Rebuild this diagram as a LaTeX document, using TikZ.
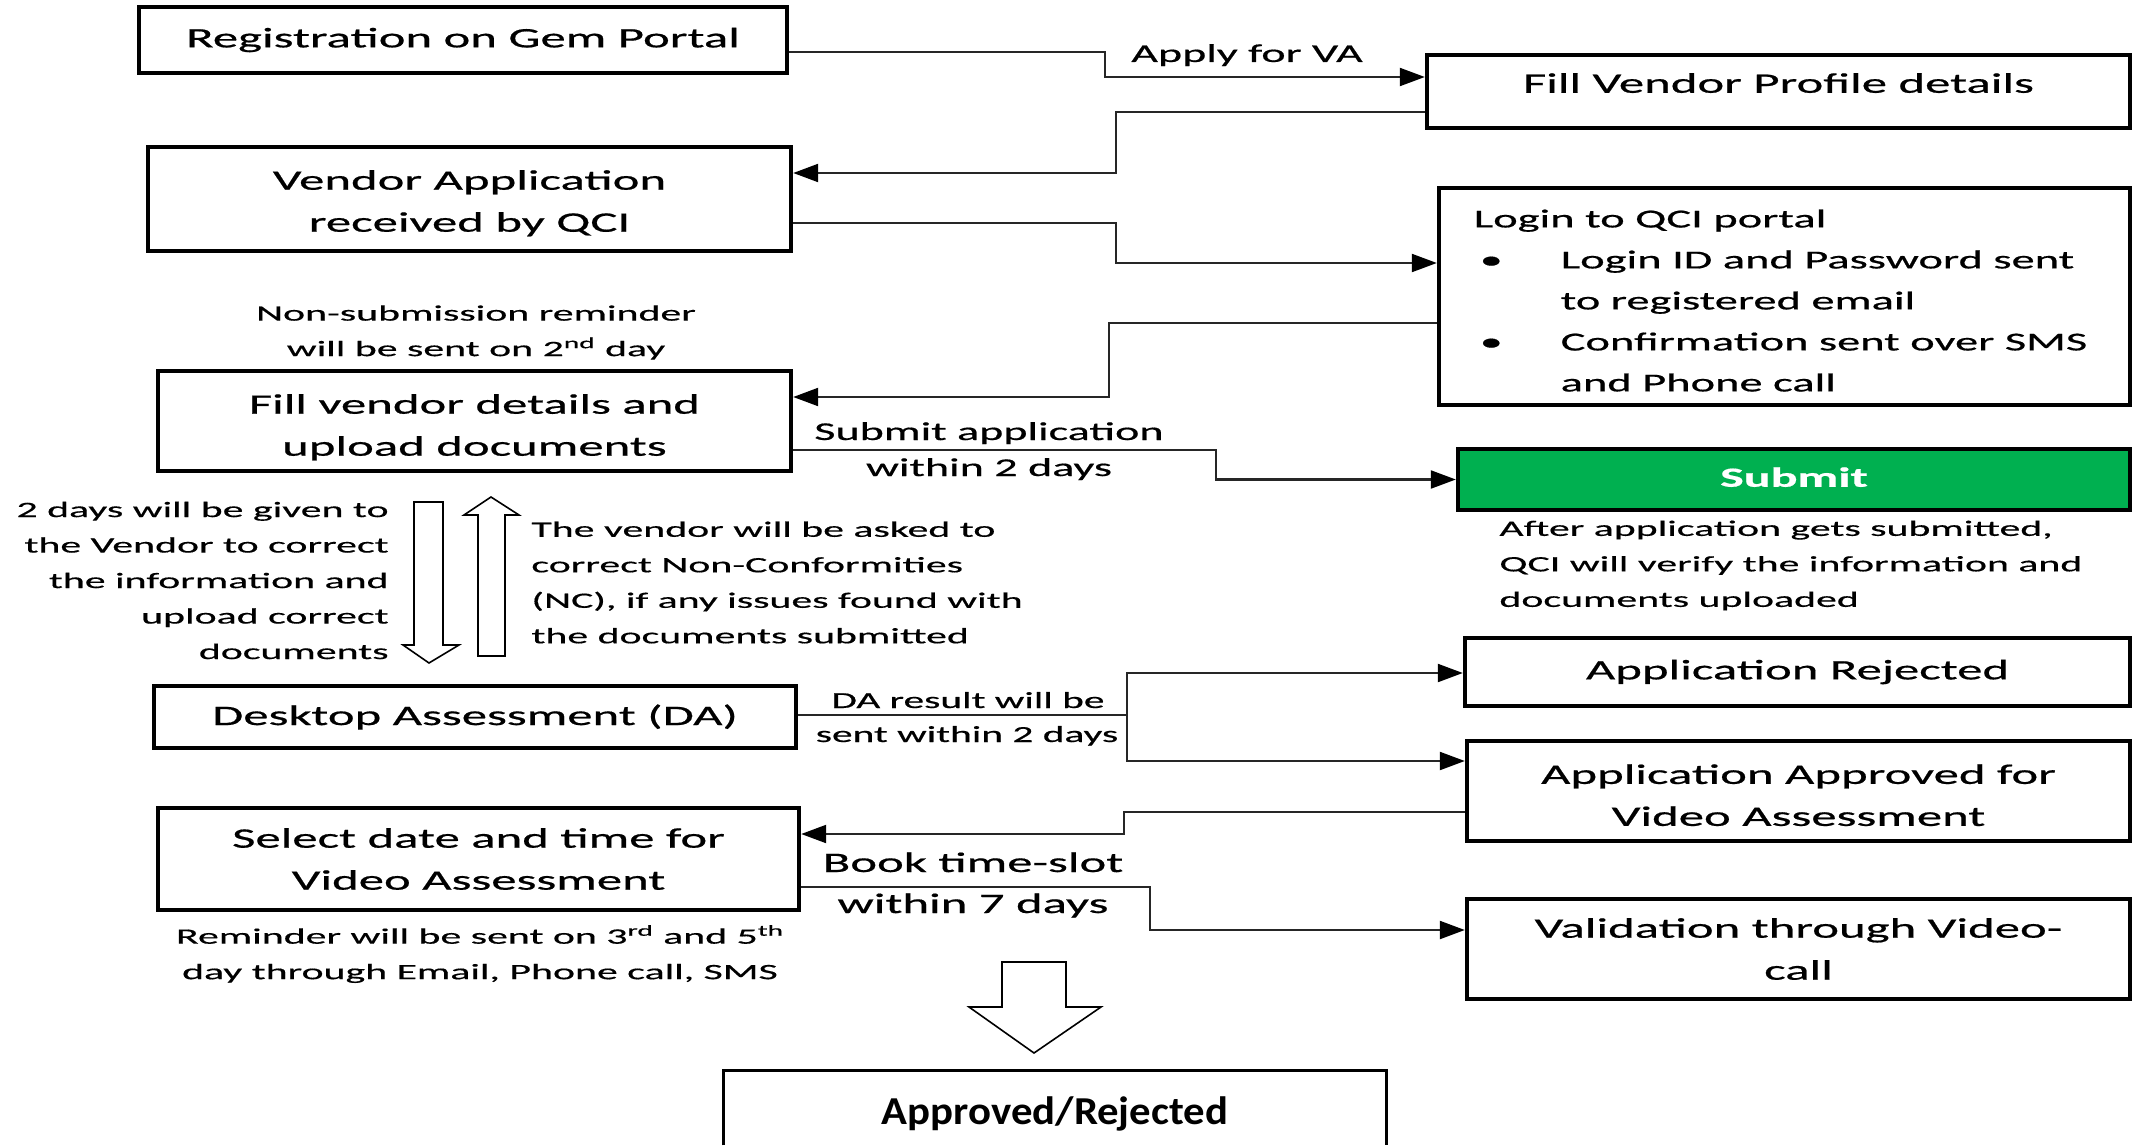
\documentclass[tikz,border=0pt]{standalone}
\usepackage{fontspec}
\setmainfont{Carlito}
\newfontfamily\cfA{Carlito}[FakeStretch=1.8,FakeBold=0.6]
\newfontfamily\cfB{Carlito}[FakeStretch=1.9,FakeBold=0.5]
\newfontfamily\cfC{Carlito}[FakeStretch=1.08]
\usetikzlibrary{arrows.meta}
\definecolor{subgreen}{HTML}{00B050}
\begin{document}
\begin{tikzpicture}[x=0.5pt,y=-0.5pt,
  box/.style={draw, line width=2.2pt, inner sep=0pt, align=center, font={\cfA\fontsize{14.1}{21}\selectfont}},
  line/.style={draw=black!85, line width=1.1pt},
  conn/.style={line, -{Triangle[length=12.5pt,width=9pt,color=black]}},
  lbl/.style={inner sep=0pt, font={\cfA\fontsize{12.8}{19}\selectfont}},
  lblS/.style={inner sep=0pt, font={\cfA\fontsize{11.5}{17}\selectfont}},
  lblL/.style={inner sep=0pt, font={\cfA\fontsize{14.1}{21}\selectfont}},
  ann/.style={inner sep=0pt, font={\cfB\fontsize{11}{17.75}\selectfont}},
  hollow/.style={draw, line width=0.8pt, fill=white}
]
\useasboundingbox[fill=white] (0,0) rectangle (2134,1145);

% boxes
\node[box, minimum width=324pt, minimum height=33pt] (reg) at (463,40) {Registration on Gem Portal};
\node[box, minimum width=351.5pt, minimum height=36.5pt] (fvp) at (1778.5,91.5) {\raisebox{8.5pt}{Fill Vendor Profile details}};
\node[box, minimum width=321.5pt, minimum height=52pt] (vaq) at (469.5,199) {\rule{0pt}{14pt}Vendor Application\\received by QCI};
\node[box, minimum width=345.5pt, minimum height=108.5pt, align=left, font={\cfA\fontsize{12.9}{20.5}\selectfont}] (login) at (1784.5,296.5)
  {\rule{0pt}{13pt}\hspace*{-4pt}Login to QCI portal\\
   \makebox[39.5pt][l]{\hspace{-1pt}\textbullet}Login ID and Password sent\\
   \hspace*{39.5pt}to registered email\\
   \makebox[39.5pt][l]{\hspace{-1pt}\textbullet}Confirmation sent over SMS\\
   \hspace*{39.5pt}and Phone call};
\node[box, minimum width=316.5pt, minimum height=50pt] (fvd) at (474.5,421) {\rule{0pt}{16pt}Fill vendor details and\\upload documents};
\node[box, fill=subgreen, text=white, minimum width=336pt, minimum height=30.5pt, font={\cfA\bfseries\fontsize{13.9}{20}\selectfont}] (submit) at (1794,479.5) {\raisebox{2.5pt}{Submit}};
\node[box, minimum width=321pt, minimum height=31pt] (da) at (475,717) {Desktop Assessment (DA)};
\node[box, minimum width=332.5pt, minimum height=34pt] (rej) at (1797.5,672) {Application Rejected};
\node[box, minimum width=331.5pt, minimum height=50pt] (appr) at (1798.5,791) {\rule{0pt}{14pt}Application Approved for\\Video Assessment};
\node[box, minimum width=320.5pt, minimum height=51pt] (sel) at (478.5,859) {Select date and time for\\Video Assessment};
\node[box, minimum width=331.5pt, minimum height=50pt] (val) at (1798.5,949) {Validation through Video-\\call};
\node[inner sep=0pt, minimum width=331pt, minimum height=37pt,
  font={\cfC\bfseries\fontsize{19.8}{24}\selectfont}] (ar) at (1055,1108) {\raisebox{-2.75pt}[\height][\depth]{Approved/Rejected}};
\draw[line width=1.4pt] (ar.south west) -- (ar.north west) -- (ar.north east) -- (ar.south east);

% connectors
\draw[conn] (reg.east |- 0,52) -- (1105,52) |- (fvp.west |- 0,77);
\node[lbl, anchor=base] (tapply) at (1247,62) {Apply for VA};
\draw[conn] (fvp.west |- 0,112) -- (1116,112) |- (vaq.east |- 0,173);
\draw[conn] (vaq.east |- 0,223) -- (1116,223) |- (login.west |- 0,263);
\draw[conn] (login.west |- 0,323) -- (1109,323) |- (fvd.east |- 0,397);
\draw[conn] (fvd.east |- 0,450) -- (1216,450) |- (submit.west);
\node[lbl, anchor=base] (tsub1) at (989,440) {Submit application};
\node[lbl, anchor=base] (tsub2) at (989,476) {within 2 days};
\coordinate (br) at (1127,715);
\draw[line] (da.east |- br) -- (br);
\draw[conn] (br) |- (rej.west |- 0,673);
\draw[conn] (br) |- (appr.west |- 0,761);
\node[lblS, anchor=base] (tda1) at (968,708) {DA result will be};
\node[lblS, anchor=base] (tda2) at (967,742) {sent within 2 days};
\draw[conn] (appr.west |- 0,812) -- (1124,812) |- (sel.east |- 0,834);
\draw[conn] (sel.east |- 0,887) -- (1150,887) |- (val.west |- 0,930);
\node[lblL, anchor=base] (tbook1) at (973,872) {Book time-slot};
\node[lblL, anchor=base] (tbook2) at (973,913) {within 7 days};

% annotations
\node[ann, align=center] (n1) at (476,332.5) {Non-submission reminder\\will be sent on 2\textsuperscript{nd} day};
\node[ann, align=right, anchor=east] (n2) at (389,580.5) {2 days will be given to\\the Vendor to correct\\the information and\\upload correct\\documents};
\node[ann, align=left, anchor=west] (n3) at (531,582.5) {The vendor will be asked to\\correct Non-Conformities\\(NC), if any issues found with\\the documents submitted};
\node[ann, align=left, anchor=west] (n4) at (1499,565.5) {After application gets submitted,\\QCI will verify the information and\\documents uploaded};
\node[ann, align=center] (n5) at (480,954) {Reminder will be sent on 3\textsuperscript{rd} and 5\textsuperscript{th}\\day through Email, Phone call, SMS};

% hollow block arrows
\draw[hollow] (414,502) -- (443,502) -- (443,645) -- (459,645) -- (429,663) -- (403,645) -- (414,645) -- cycle;
\draw[hollow] (478,656) -- (505,656) -- (505,515) -- (519,515) -- (491,497) -- (464,515) -- (478,515) -- cycle;
\draw[hollow] (1002,962) -- (1066,962) -- (1066,1007) -- (1101,1007) -- (1034,1053) -- (969,1007) -- (1002,1007) -- cycle;
\end{tikzpicture}
\end{document}
